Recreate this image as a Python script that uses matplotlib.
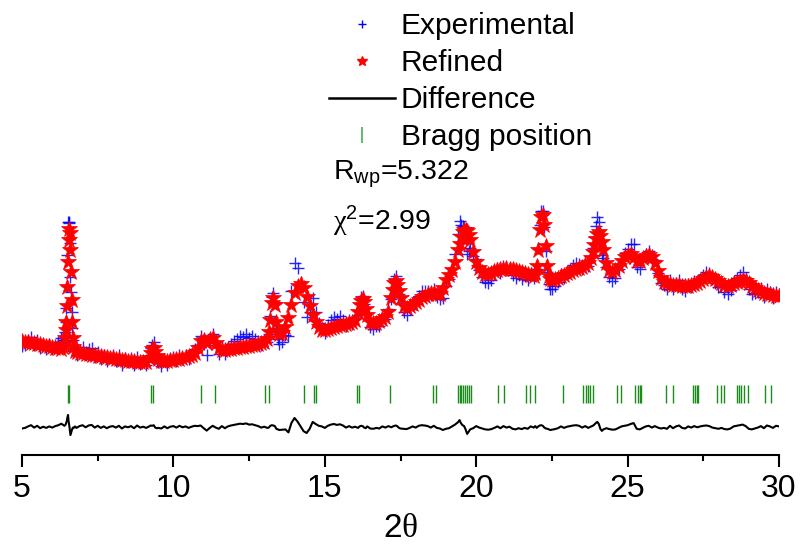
import numpy as np
import matplotlib.pyplot as plt
from matplotlib.lines import Line2D

plt.rcParams['font.family'] = ['Liberation Sans', 'DejaVu Sans']
plt.rcParams['mathtext.fontset'] = 'custom'
plt.rcParams['mathtext.rm'] = 'Liberation Sans'
plt.rcParams['mathtext.it'] = 'Liberation Sans:italic'
plt.rcParams['mathtext.sf'] = 'Liberation Serif'

# 2theta grid (denser around the sharp reflections)
two_theta = [
    5.0, 5.1, 5.2, 5.3, 5.4, 5.5, 5.6, 5.7, 5.8, 5.9,
    6.0, 6.1, 6.2, 6.3, 6.36, 6.40, 6.42, 6.44, 6.46, 6.48,
    6.50, 6.52, 6.54, 6.56, 6.58, 6.60, 6.62, 6.64, 6.66, 6.68,
    6.70, 6.75, 6.8, 6.9, 7.0, 7.1, 7.2, 7.3, 7.4, 7.5,
    7.6, 7.7, 7.8, 7.9, 8.0, 8.1, 8.2, 8.3, 8.4, 8.5,
    8.6, 8.7, 8.8, 8.9, 9.0, 9.1, 9.2, 9.25, 9.3, 9.35,
    9.4, 9.45, 9.5, 9.6, 9.7, 9.8, 9.9, 10.0, 10.1, 10.2,
    10.3, 10.4, 10.5, 10.6, 10.7, 10.8, 10.9, 11.0, 11.1, 11.2,
    11.3, 11.4, 11.5, 11.6, 11.7, 11.8, 11.9, 12.0, 12.1, 12.2,
    12.3, 12.4, 12.5, 12.6, 12.7, 12.8, 12.9, 13.0, 13.1, 13.15,
    13.2, 13.25, 13.3, 13.35, 13.4, 13.45, 13.5, 13.6, 13.7, 13.8,
    13.9, 14.0, 14.1, 14.2, 14.3, 14.4, 14.5, 14.6, 14.7, 14.8,
    14.9, 15.0, 15.1, 15.2, 15.3, 15.4, 15.5, 15.6, 15.7, 15.8,
    15.9, 16.0, 16.1, 16.15, 16.2, 16.25, 16.3, 16.35, 16.4, 16.5,
    16.6, 16.7, 16.8, 16.9, 17.0, 17.1, 17.2, 17.25, 17.3, 17.35,
    17.4, 17.45, 17.5, 17.6, 17.7, 17.8, 17.9, 18.0, 18.1, 18.2,
    18.3, 18.4, 18.5, 18.6, 18.7, 18.8, 18.9, 19.0, 19.1, 19.2,
    19.3, 19.4, 19.45, 19.5, 19.55, 19.6, 19.65, 19.7, 19.75, 19.8,
    19.9, 20.0, 20.1, 20.2, 20.3, 20.4, 20.5, 20.6, 20.7, 20.8,
    20.9, 21.0, 21.1, 21.2, 21.3, 21.4, 21.5, 21.6, 21.7, 21.8,
    21.9, 21.95, 22.0, 22.05, 22.1, 22.15, 22.2, 22.25, 22.3, 22.35,
    22.4, 22.45, 22.5, 22.6, 22.7, 22.8, 22.9, 23.0, 23.1, 23.2,
    23.3, 23.4, 23.5, 23.6, 23.7, 23.8, 23.85, 23.9, 23.95, 24.0,
    24.05, 24.1, 24.15, 24.2, 24.3, 24.4, 24.5, 24.6, 24.7, 24.8,
    24.9, 25.0, 25.1, 25.2, 25.3, 25.4, 25.5, 25.6, 25.7, 25.8,
    25.9, 26.0, 26.1, 26.2, 26.3, 26.4, 26.5, 26.6, 26.7, 26.8,
    26.9, 27.0, 27.1, 27.2, 27.3, 27.4, 27.5, 27.6, 27.7, 27.8,
    27.9, 28.0, 28.1, 28.2, 28.3, 28.4, 28.5, 28.6, 28.7, 28.8,
    28.9, 29.0, 29.1, 29.2, 29.3, 29.4, 29.5, 29.6, 29.7, 29.8,
    29.9, 30.0,
]

# calculated (refined) intensity, a.u.
refined = [
    114, 113.5, 113, 112.5, 112, 111.5, 111, 110.5, 109.5, 109,
    108, 107.5, 107, 106, 108, 111, 117, 125, 133, 149,
    168, 193, 215, 226, 222, 205, 183, 155, 133, 117,
    108, 104, 103, 102.5, 102, 101.5, 101, 100.5, 100, 99.5,
    99, 98.5, 98, 97.5, 97, 96.5, 96, 95.5, 95, 94.5,
    94, 94, 93.5, 93, 93, 93.5, 97, 102, 106, 107,
    103, 99, 96, 94, 94, 94.5, 95, 95.5, 96, 96.5,
    97, 98, 99, 100, 102, 107, 114, 115, 112, 116,
    117, 112, 107, 105.5, 105.5, 106, 106.5, 107, 107.5, 108,
    108.5, 109, 109.5, 110, 110.5, 111, 112, 113, 116, 123,
    135, 152, 157, 150, 133, 124, 121, 122, 128, 137,
    150, 162, 169, 171, 167, 158, 149, 140, 133, 128,
    125.5, 125, 126, 127, 128, 129, 130, 130.5, 131, 132,
    133, 135, 143, 150, 154, 156, 153, 146, 140, 133,
    132, 132.5, 134, 136, 138, 143, 157, 165, 172, 174,
    170, 164, 157, 149, 147, 149, 151, 153, 155.5, 158,
    159.5, 161, 162, 162, 161.5, 161, 167, 175, 180, 185,
    193, 205, 211, 218, 223, 225, 225.5, 224, 220, 215,
    203, 193, 187, 183, 181, 181, 182, 184, 185, 186,
    186.5, 187, 186.5, 186, 185, 184, 183, 182, 181, 180,
    179, 182, 189, 205, 225, 238, 240, 230, 209, 189,
    179, 176, 175, 176, 177.5, 179, 180.5, 182, 183.5, 185,
    186, 187, 188.5, 190, 192, 197, 203, 210, 216, 221,
    223, 219, 213, 205, 192, 185, 183, 185, 189, 194,
    198, 200.5, 201, 198, 194.5, 194, 197, 199.5, 200, 198,
    192, 184, 177, 173, 172, 171, 170.5, 170, 170, 169.5,
    169.5, 169.5, 170, 171, 172.5, 174, 176, 178, 179, 178,
    176, 174, 172, 170, 169.5, 170.5, 172, 173, 174.5, 175,
    174, 172, 169.5, 167, 165.5, 164, 162.5, 161.5, 161, 160,
    159.5, 159,
]

# observed - calculated, a.u.
residual = [
    -5, -3, 2, 6, -2, 4, -4, 1, -3, 2,
    -2, 3, 6, 11, 7, 4, 6, 8, 14, 20,
    32, 40, 18, 6, -10, -27, -20, -12, -6, -2,
    -4, 2, -3, 3, 6, -1, 5, 7, -2, 4,
    -3, 2, -4, 1, 3, -2, 4, -5, 2, -1,
    3, -4, 5, -2, 1, -3, 2, 5, 4, 6,
    -2, -4, -3, -5, 2, -4, 1, 3, -2, 4,
    -1, 2, -3, 1, 4, 3, 5, -4, -12, -3,
    4, -2, -6, 3, -4, 2, 5, 7, 9, 11,
    10, 12, 8, 9, 6, 3, -2, 1, -3, -2,
    4, 6, 5, 3, -6, -8, -10, -9, -8, -18,
    14, 30, 18, 2, -14, -20, -6, 17, 10, 4,
    2, -3, 4, 8, 10, 7, 9, 5, -2, 3,
    -2, 1, -3, 2, 4, 3, -2, -4, 2, -5,
    -6, -3, -5, 2, -2, 3, -1, 2, 4, 5,
    2, -3, -5, -6, -7, -3, 2, -2, 4, 6,
    5, 3, -2, 4, -3, -5, -10, -6, -4, 2,
    8, 16, 23, 12, 6, 3, -8, -23, -16, -8,
    -4, 3, -2, -5, -8, -9, -7, -3, 2, -4,
    3, -2, 1, -6, -8, -4, -7, -3, -6, 2,
    -2, 3, -3, 2, 5, 6, 4, -2, -5, -6,
    -8, -10, -9, -7, -4, 2, -3, 1, 3, 5,
    6, 4, -2, 3, -3, 2, 4, 8, 13, 17,
    10, -6, -13, -8, -4, -7, -9, -8, -3, 2,
    4, 6, 10, 13, -6, -8, -3, 2, 4, -2,
    3, -2, -5, -3, -6, 4, -4, 2, 5, -3,
    -5, 2, -2, 3, -1, 2, 4, 5, 3, -2,
    -4, -6, -3, -7, -8, -5, 2, 4, 6, 8,
    3, -6, -8, -5, -2, 3, -4, 5, 2, -3,
    4, 2,
]

bragg_pos = [
    6.51, 6.55, 9.26, 9.31, 10.90, 11.36, 13.04, 13.15, 14.30, 14.63,
    14.72, 16.06, 16.13, 17.14, 18.56, 18.67, 19.40, 19.46, 19.51, 19.57,
    19.64, 19.70, 19.75, 19.82, 20.71, 20.91, 21.64, 21.77, 21.93, 22.86,
    23.53, 23.61, 23.69, 23.77, 23.86, 24.66, 24.77, 25.26, 25.34, 25.41,
    25.45, 26.28, 26.51, 27.15, 27.22, 27.28, 27.34, 27.96, 28.07, 28.18,
    28.60, 28.68, 28.76, 28.84, 28.96, 29.53, 29.73,
]

r_wp = 5.322
chi2 = 2.99

x = np.array(two_theta)
calc = np.array(refined)
obs = calc + np.array(residual)

diff_offset = 28
diff_scale = 0.3
bragg_lo, bragg_hi = 52, 70

fig = plt.figure(figsize=(8.03, 5.48), dpi=100)
ax = fig.add_axes([22 / 803, 93 / 548, 757 / 803, 455 / 548])

ax.plot(x, obs, ls='none', marker='+', color='blue', ms=8.5, mew=1.0, alpha=0.85, zorder=2)
ax.plot(x, calc, ls='none', marker='*', color='red', ms=12, mew=0.5, zorder=3)
ax.plot(x, diff_offset + diff_scale * (obs - calc), color='black', lw=1.5, zorder=2)
ax.vlines(bragg_pos, bragg_lo, bragg_hi, color='#1a8c1a', lw=1.0)

ax.set_xlim(5, 30)
ax.set_ylim(0, 455)
ax.set_xticks([5, 10, 15, 20, 25, 30])
ax.set_xticks([7.5, 12.5, 17.5, 22.5, 27.5], minor=True)
ax.set_yticks([])
for s in ['left', 'right', 'top']:
    ax.spines[s].set_visible(False)
ax.spines['bottom'].set_linewidth(1.5)
ax.tick_params(axis='x', which='major', length=8.5, width=1.5, labelsize=23, pad=5)
ax.tick_params(axis='x', which='minor', length=4.5, width=1.5)
ax.set_xlabel('2$\\mathsf{θ}$', fontsize=24, labelpad=7)

handles = [
    Line2D([], [], ls='none', marker='+', color='blue', ms=6, mew=1.0),
    Line2D([], [], ls='none', marker='*', color='red', ms=7),
    Line2D([], [], color='black', lw=1.8),
    Line2D([], [], ls='none', marker='|', color='#4caf50', ms=11, mew=1.2),
]
labels = ['Experimental', 'Refined', 'Difference', 'Bragg position']
ax.legend(handles, labels, loc='upper left', bbox_to_anchor=(0.402, 0.98),
          frameon=False, fontsize=21.5, numpoints=1, handlelength=2.2,
          handletextpad=0.2, labelspacing=0.3, borderaxespad=0, borderpad=0.1)

ax.text(15.27, 275, f'R$_{{\\mathrm{{wp}}}}$={r_wp}', fontsize=20.5, va='baseline')
ax.text(15.27, 225, f'$\\mathsf{{χ}}^{{\\mathrm{{2}}}}$={chi2}', fontsize=20.5, va='baseline')

fig.savefig('out.png', dpi=100)
